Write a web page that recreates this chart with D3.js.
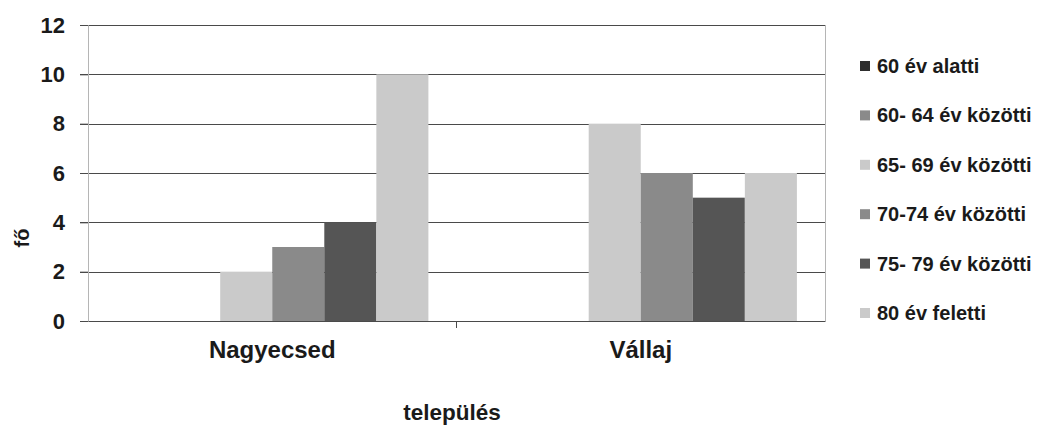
<!DOCTYPE html>
<html>
<head>
<meta charset="utf-8">
<script src="https://cdn.jsdelivr.net/npm/d3@7"></script>
<style>
  body { margin: 0; background: #fff; }
  svg { display: block; font-family: "Liberation Sans", Arial, sans-serif; }
</style>
</head>
<body>
<div id="chart"></div>
<script>
const categories = ["Nagyecsed", "Vállaj"];
const seriesNames = ["60 év alatti", "60- 64 év közötti", "65- 69 év közötti", "70-74 év közötti", "75- 79 év közötti", "80 év feletti"];
const nagyecsedValues = [0, 0, 2, 3, 4, 10];
const vallajValues = [0, 0, 8, 6, 5, 6];
const yTicks = [0, 2, 4, 6, 8, 10, 12];
const seriesColors = ["#2e2e2e", "#8a8a8a", "#cacaca", "#8a8a8a", "#555555", "#cacaca"];

const valuesByCategory = [nagyecsedValues, vallajValues];
const data = categories.map((c, i) => ({
  category: c,
  values: seriesNames.map((s, j) => ({ series: s, value: valuesByCategory[i][j] }))
}));

const width = 1039, height = 425;
const plot = { left: 88, right: 825, top: 25, bottom: 321 };
const textColor = "#1a1a1a";

const svg = d3.select("#chart").append("svg")
  .attr("width", width)
  .attr("height", height);

const x0 = d3.scaleBand()
  .domain(categories)
  .range([plot.left, plot.right]);

const x1 = d3.scaleBand()
  .domain(seriesNames)
  .range([0, x0.bandwidth()])
  .paddingOuter(0.54);

const y = d3.scaleLinear()
  .domain([0, 12])
  .range([plot.bottom, plot.top]);

const color = d3.scaleOrdinal().domain(seriesNames).range(seriesColors);

// gridlines
svg.append("g")
  .selectAll("line")
  .data(yTicks.filter(d => d > 0))
  .join("line")
  .attr("x1", plot.left - 8)
  .attr("x2", plot.right)
  .attr("y1", d => Math.round(y(d)) + 0.5)
  .attr("y2", d => Math.round(y(d)) + 0.5)
  .attr("stroke", "#4a4a4a")
  .attr("stroke-width", 1);

// right border
svg.append("line")
  .attr("x1", plot.right + 0.5).attr("x2", plot.right + 0.5)
  .attr("y1", plot.top).attr("y2", plot.bottom)
  .attr("stroke", "#b5b5b5");

// bars
svg.append("g")
  .selectAll("g")
  .data(data)
  .join("g")
  .attr("transform", d => `translate(${x0(d.category)},0)`)
  .selectAll("rect")
  .data(d => d.values)
  .join("rect")
  .attr("x", d => x1(d.series))
  .attr("width", x1.bandwidth())
  .attr("y", d => y(d.value))
  .attr("height", d => y(0) - y(d.value))
  .attr("fill", d => color(d.series));

// y axis
const yAxis = svg.append("g")
  .attr("transform", `translate(${plot.left},0)`)
  .call(d3.axisLeft(y).tickValues(yTicks).tickSize(8).tickPadding(15));
yAxis.select(".domain").attr("stroke", "#b5b5b5");
yAxis.selectAll(".tick line").attr("stroke", "#4a4a4a");
yAxis.selectAll("text")
  .attr("font-size", 22)
  .attr("font-weight", "bold")
  .attr("fill", textColor)
  .attr("font-family", "Liberation Sans, Arial, sans-serif");

// x axis
const xAxis = svg.append("g")
  .attr("transform", `translate(0,${plot.bottom})`)
  .call(d3.axisBottom(x0).tickSize(0).tickPadding(20));
xAxis.select(".domain").attr("stroke", "#4a4a4a");
xAxis.selectAll("text")
  .attr("font-size", 24)
  .attr("font-weight", "bold")
  .attr("fill", textColor)
  .attr("font-family", "Liberation Sans, Arial, sans-serif");

// category separator tick
svg.append("line")
  .attr("x1", x0("Vállaj")).attr("x2", x0("Vállaj"))
  .attr("y1", plot.bottom).attr("y2", plot.bottom + 7)
  .attr("stroke", "#4a4a4a");

// axis titles
svg.append("text")
  .attr("x", 452)
  .attr("y", 420)
  .attr("text-anchor", "middle")
  .attr("font-size", 22.5)
  .attr("font-weight", "bold")
  .attr("fill", textColor)
  .text("település");

svg.append("text")
  .attr("transform", "translate(29,238) rotate(-90)")
  .attr("text-anchor", "middle")
  .attr("font-size", 20)
  .attr("font-weight", "bold")
  .attr("fill", textColor)
  .text("fő");

// legend
const legend = svg.append("g")
  .selectAll("g")
  .data(seriesNames)
  .join("g")
  .attr("transform", (d, i) => `translate(860,${73 + i * 49.4})`);

legend.append("rect")
  .attr("x", 0).attr("y", -12)
  .attr("width", 10).attr("height", 10)
  .attr("fill", d => color(d));

legend.append("text")
  .attr("x", 17)
  .attr("y", 0)
  .attr("font-size", 20)
  .attr("font-weight", "bold")
  .attr("fill", textColor)
  .text(d => d);
</script>
</body>
</html>
